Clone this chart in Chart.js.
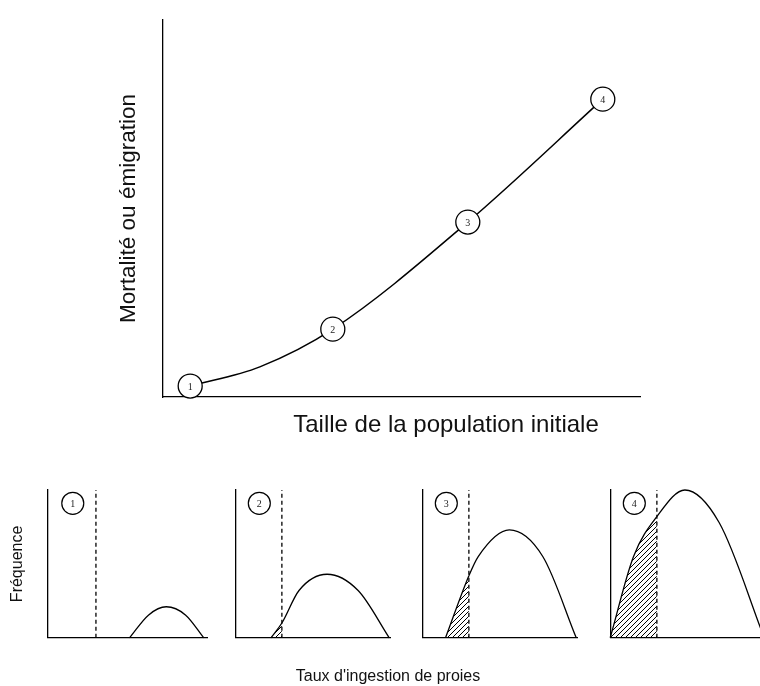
<!DOCTYPE html>
<html>
<head>
<meta charset="utf-8">
<script src="https://cdn.jsdelivr.net/npm/chart.js@4.4.1/dist/chart.umd.min.js"></script>
<style>
  html, body { margin: 0; padding: 0; width: 760px; height: 686px; overflow: hidden; background: #fff; }
  .box { position: absolute; }
</style>
</head>
<body>
<div class="box" style="left:0;top:0;width:760px;height:686px"><canvas id="haut"></canvas></div>
<div class="box" style="left:0;top:470px;width:220px;height:180px"><canvas id="p1"></canvas></div>
<div class="box" style="left:223px;top:470px;width:180px;height:180px"><canvas id="p2"></canvas></div>
<div class="box" style="left:410px;top:470px;width:180px;height:180px"><canvas id="p3"></canvas></div>
<div class="box" style="left:598px;top:470px;width:180px;height:180px"><canvas id="p4"></canvas></div>
<script>
// graphe du haut : mortalité vs taille de population
// les 4 points numérotés
var tailleX = [5.7, 35.6, 63.9, 92.2];
var mortaliteY = [2.9, 18.0, 46.4, 79.0];
var numeros = ['1', '2', '3', '4'];
// points lus le long de la courbe
var courbeX = [5.7, 20.3, 35.6, 63.9, 92.2];
var courbeY = [2.9, 8.0, 18.0, 46.4, 79.0];

// panneaux du bas : distribution des taux d'ingestion
var seuil = 3.0;
var tauxP1 = [5.1, 6.3, 7.4, 8.6, 9.75];
var freqP1 = [0, 1.55, 2.1, 1.55, 0];
var tauxP2 = [2.3, 3.0, 4.1, 5.9, 7.9, 9.9];
var freqP2 = [0, 1.0, 3.2, 4.3, 3.2, 0];
var tauxP3 = [1.5, 3.0, 3.6, 5.6, 7.75, 9.9];
var freqP3 = [0, 4.2, 5.5, 7.3, 5.5, 0];
var tauxP4 = [0, 1.5, 3.0, 4.8, 7.0, 9.9];
var freqP4 = [0, 5.5, 8.2, 10, 7.8, 0];
var reperePos = {x: 1.55, y: 9.1};

var police = "'Liberation Sans', Arial, sans-serif";

function points(xs, ys) {
    return xs.map(function(x, i) { return {x: x, y: ys[i]}; });
}

// motif hachuré ////
function hachures() {
    var c = document.createElement('canvas');
    c.width = 5; c.height = 5;
    var g = c.getContext('2d');
    g.strokeStyle = '#000';
    g.lineWidth = 1;
    g.beginPath();
    g.moveTo(0, 5); g.lineTo(5, 0);
    g.moveTo(-1, 1); g.lineTo(1, -1);
    g.moveTo(4, 6); g.lineTo(6, 4);
    g.stroke();
    return g.createPattern(c, 'repeat');
}
var motif = hachures();

// numéros dans les cercles
var numerosPlugin = {
    id: 'numeros',
    afterDatasetsDraw: function(chart) {
        var ctx = chart.ctx;
        chart.data.datasets.forEach(function(ds, i) {
            if (!ds.numeros) return;
            chart.getDatasetMeta(i).data.forEach(function(el, j) {
                ctx.save();
                ctx.fillStyle = '#222';
                ctx.font = "10px 'Liberation Serif', serif";
                ctx.textAlign = 'center';
                ctx.textBaseline = 'middle';
                ctx.fillText(ds.numeros[j], el.x, el.y + 1);
                ctx.restore();
            });
        });
    }
};

// légendes des axes x
var legendesPlugin = {
    id: 'legendes',
    afterDraw: function(chart) {
        var ctx = chart.ctx;
        ctx.save();
        ctx.fillStyle = '#111';
        ctx.textAlign = 'center';
        ctx.textBaseline = 'alphabetic';
        ctx.font = '24px ' + police;
        ctx.fillText('Taille de la population initiale', 446, 432);
        ctx.font = '16px ' + police;
        ctx.fillText("Taux d'ingestion de proies", 388, 681);
        ctx.restore();
    }
};

function axe(titre, min, max, taille, pad) {
    return {
        type: 'linear',
        min: min,
        max: max,
        grid: {display: false, drawTicks: false},
        ticks: {display: false},
        border: {display: true, color: '#000', width: 1.3},
        title: {
            display: !!titre,
            text: titre || '',
            color: '#111',
            font: {family: police, size: taille},
            padding: pad
        }
    };
}

new Chart(document.getElementById('haut'), {
    type: 'line',
    data: {
        datasets: [{
            data: points(tailleX, mortaliteY),
            numeros: numeros,
            showLine: false,
            pointRadius: 12,
            pointBackgroundColor: '#fff',
            pointBorderColor: '#000',
            pointBorderWidth: 1.3,
            clip: false
        }, {
            data: points(courbeX, courbeY),
            borderColor: '#000',
            borderWidth: 1.5,
            cubicInterpolationMode: 'monotone',
            pointRadius: 0,
            clip: false
        }]
    },
    options: {
        responsive: true,
        maintainAspectRatio: false,
        animation: false,
        events: [],
        layout: {padding: {left: 100, right: 120, top: 20, bottom: 289}},
        plugins: {legend: {display: false}, tooltip: {enabled: false}},
        scales: {
            x: axe(null, 0, 100),
            y: axe('Mortalité ou émigration', 0, 100, 22.5, {top: 15.5, bottom: 20.5})
        }
    },
    plugins: [numerosPlugin, legendesPlugin]
});

function panneau(id, xs, ys, numero, avecTitre) {
    var padLeft = avecTitre ? 0 : 10;
    var padRight = avecTitre ? 12 : 10;
    new Chart(document.getElementById(id), {
        type: 'line',
        data: {
            datasets: [{
                data: [reperePos],
                numeros: [numero],
                showLine: false,
                pointRadius: 11,
                pointBackgroundColor: '#fff',
                pointBorderColor: '#000',
                pointBorderWidth: 1.2,
                clip: false
            }, {
                data: points(xs, ys),
                borderColor: '#000',
                borderWidth: 1.3,
                cubicInterpolationMode: 'monotone',
                pointRadius: 0,
                fill: 'origin',
                backgroundColor: 'rgba(0,0,0,0)',
                segment: {
                    backgroundColor: function(c) {
                        return c.p1.parsed.x <= seuil + 1e-9 ? motif : undefined;
                    }
                },
                clip: 6
            }, {
                data: [{x: seuil, y: 0}, {x: seuil, y: 10}],
                borderColor: '#000',
                borderWidth: 1.3,
                borderDash: [4, 3],
                pointRadius: 0
            }]
        },
        options: {
            responsive: true,
            maintainAspectRatio: false,
            animation: false,
            events: [],
            layout: {padding: {left: padLeft, right: padRight, top: 20, bottom: 11}},
            plugins: {legend: {display: false}, tooltip: {enabled: false}},
            scales: {
                x: axe(null, 0, 10),
                y: axe(avecTitre ? 'Fréquence' : null, 0, 10, 16, {top: 8.4, bottom: 20.4})
            }
        },
        plugins: [numerosPlugin]
    });
}

panneau('p1', tauxP1, freqP1, '1', true);
panneau('p2', tauxP2, freqP2, '2', false);
panneau('p3', tauxP3, freqP3, '3', false);
panneau('p4', tauxP4, freqP4, '4', false);
</script>
</body>
</html>
